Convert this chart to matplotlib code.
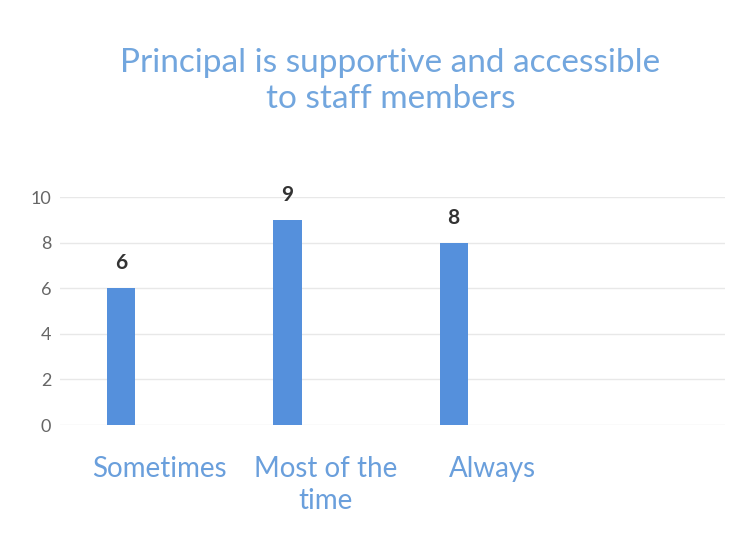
import matplotlib.pyplot as plt

categories = ["Sometimes", "Most of the\ntime", "Always"]
counts = [6, 9, 8]
y_ticks = [0, 2, 4, 6, 8, 10]

plt.rcParams['font.family'] = ['Lato', 'DejaVu Sans']

fig = plt.figure(figsize=(7.55, 5.34), dpi=100)
ax = fig.add_axes([0.079, 0.204, 0.881, 0.427])

x = list(range(len(categories)))
# bars sit left of the category centre, as in the original (clustered layout)
bar_x = [i - 0.23 for i in x]
bars = ax.bar(bar_x, counts, width=0.17, color='#5590dc', zorder=3)

for b, v in zip(bars, counts):
    ax.text(b.get_x() + b.get_width() / 2, v + 0.65, str(v),
            ha='center', va='bottom', fontsize=15, fontweight='bold', color='#333333')

ax.set_ylim(0, 10)
ax.set_xlim(-0.6, 3.4)
ax.set_yticks(y_ticks)
ax.set_xticks(x)
ax.set_xticklabels(categories, fontsize=20, color='#6a9fdc', linespacing=1.3)
ax.tick_params(axis='y', labelsize=13, labelcolor='#666666', length=0, pad=6)
ax.tick_params(axis='x', length=0, pad=22)
ax.grid(axis='y', color='#e8e8e8', linewidth=1, zorder=0)
for s in ax.spines.values():
    s.set_visible(False)

fig.text(0.517, 0.848, "Principal is supportive and accessible\nto staff members",
         ha='center', va='center', fontsize=24, color='#72a6de', linespacing=1.25)

fig.savefig('out.png', dpi=100)
